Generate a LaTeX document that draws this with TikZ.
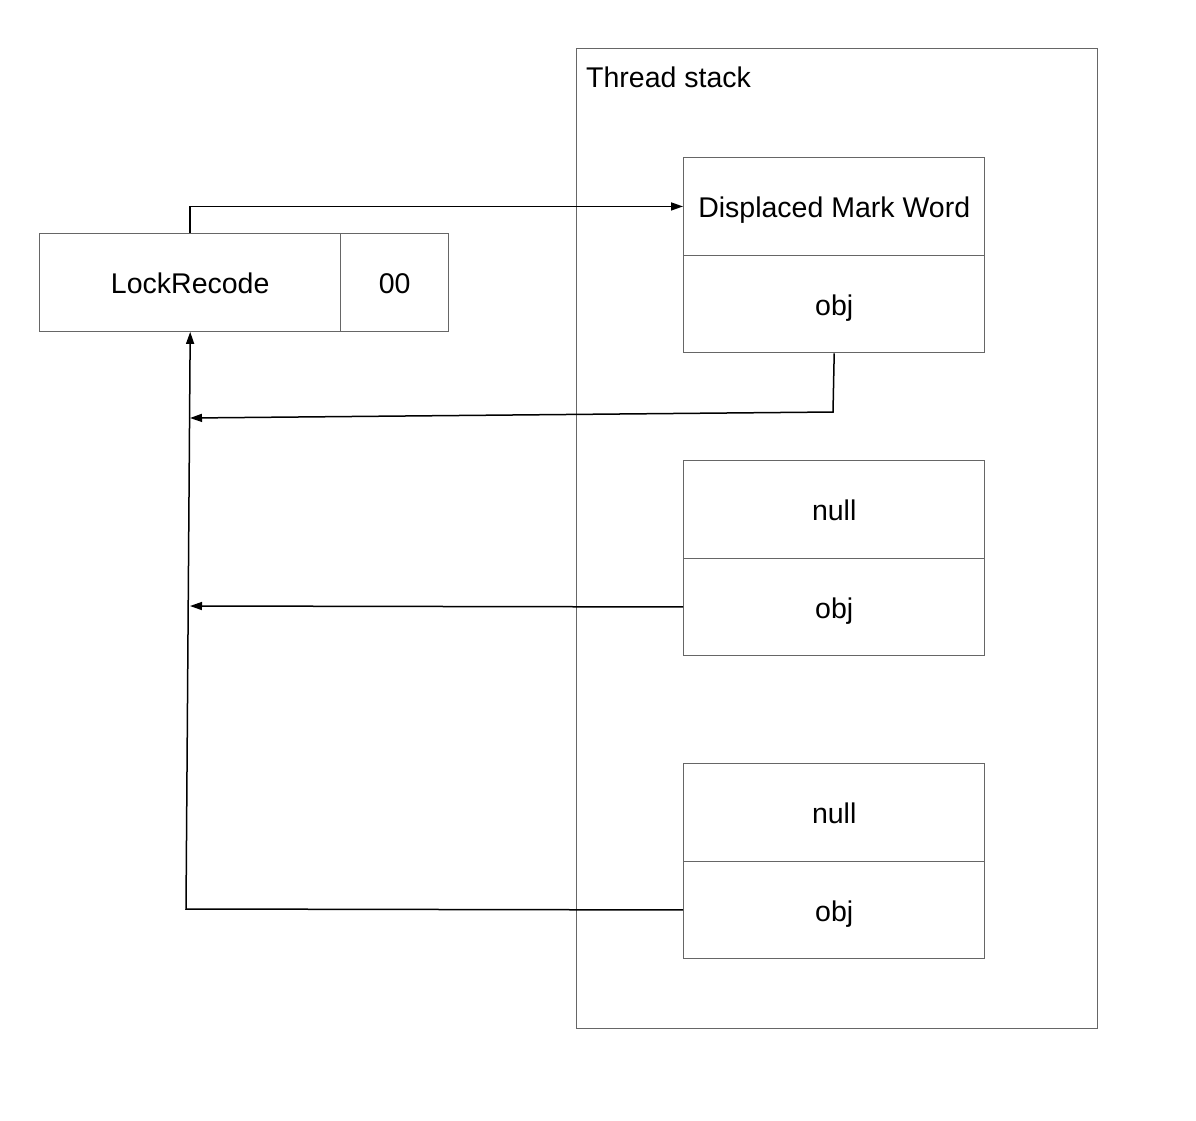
\documentclass[tikz,border=0pt]{standalone}
\usepackage{fontspec}
\setmainfont{Liberation Sans}
\usetikzlibrary{arrows.meta}
\begin{document}
\begin{tikzpicture}[x=1pt,y=-1pt,
  box/.style={draw=black!60, line width=1.4pt, inner sep=0pt, anchor=north west},
  cell/.style={box, minimum width=301pt, minimum height=97.5pt, text height=23pt, text depth=0pt, font=\fontsize{28.5}{32}\selectfont},
  conn/.style={line width=1.5pt, -{Triangle[length=12pt,width=8pt]}}]
\useasboundingbox[fill=white] (0,0) rectangle (1196,1120);
\node[box, minimum width=521pt, minimum height=980pt] (stack) at (576,48) {};
\node[anchor=base west, inner sep=0pt, font=\fontsize{28.5}{32}\selectfont] (stacklabel) at (586,87) {Thread stack};
\node[cell, minimum width=301pt] (lock) at (39,233) {LockRecode};
\node[cell, minimum width=108pt] (bits) at (340,233) {00};
\node[cell] (dmw) at (683,157) {Displaced Mark Word};
\node[cell] (obj1) at (683,254.5) {obj};
\node[cell] (null2) at (683,460) {null};
\node[cell] (obj2) at (683,557.5) {obj};
\node[cell] (null3) at (683,763) {null};
\node[cell] (obj3) at (683,860.5) {obj};
\coordinate (b1) at (833,412);
\coordinate (t1) at (190,418);
\coordinate (t2) at (190,606);
\coordinate (b3) at (186,909);
\draw[conn] (lock.north) |- (dmw.west);
\draw[conn] (obj1.south) -- (b1) -- (t1);
\draw[conn] (obj2.west) -- (t2);
\draw[conn] (obj3.west) -- (b3) -- (lock.south);
\end{tikzpicture}
\end{document}
